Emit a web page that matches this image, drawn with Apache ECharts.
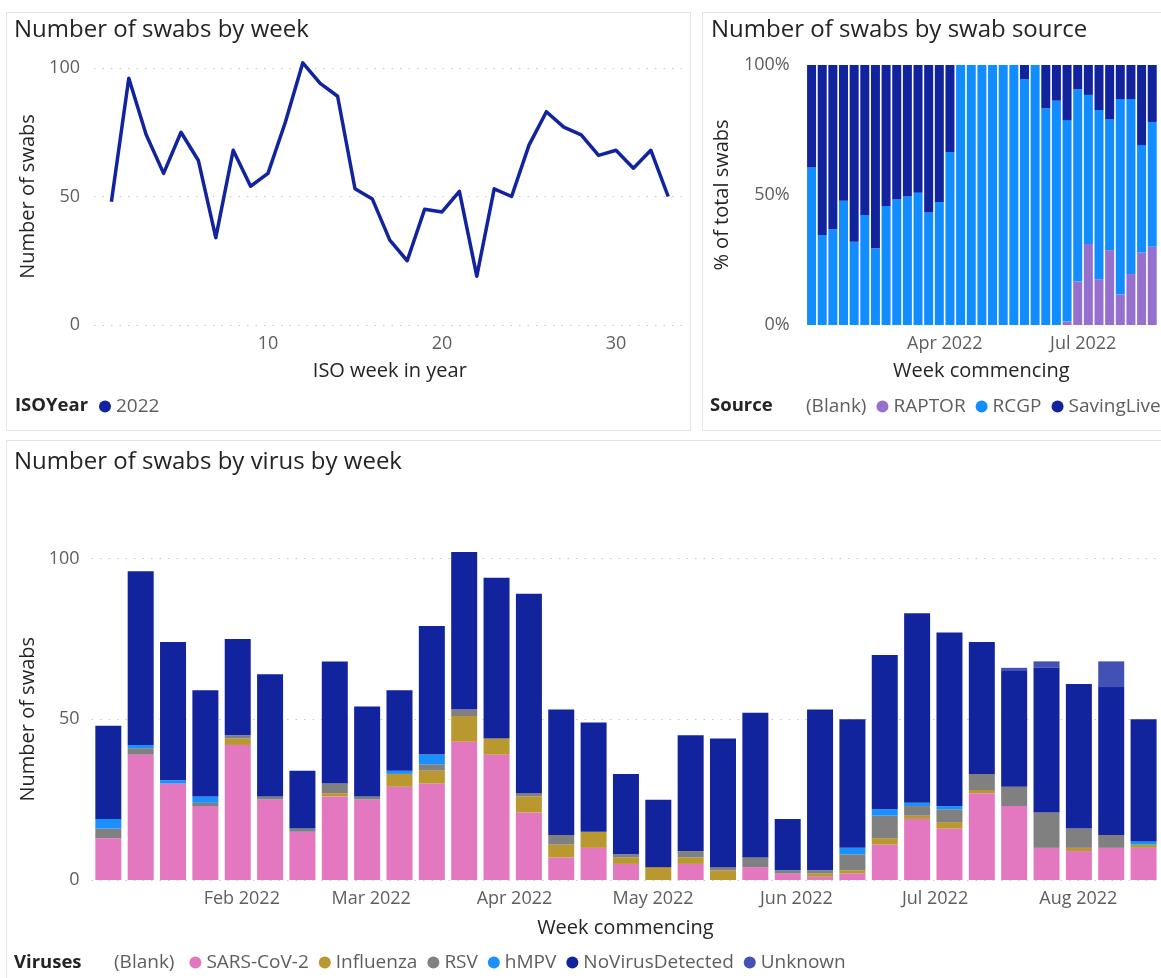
<!DOCTYPE html>
<html>
<head>
<meta charset="utf-8">
<script src="https://cdn.jsdelivr.net/npm/echarts@6/dist/echarts.min.js"></script>
<style>
  html, body { margin: 0; padding: 0; background: #ffffff; }
  #chart { width: 1161px; height: 978px; }
</style>
</head>
<body>
<div id="chart"></div>
<script>
// ---------------- DATA ----------------
const isoWeeks = [1,2,3,4,5,6,7,8,9,10,11,12,13,14,15,16,17,18,19,20,21,22,23,24,25,26,27,28,29,30,31,32,33];
const weekCommencing = ['2022-01-03','2022-01-10','2022-01-17','2022-01-24','2022-01-31','2022-02-07','2022-02-14',
  '2022-02-21','2022-02-28','2022-03-07','2022-03-14','2022-03-21','2022-03-28','2022-04-04','2022-04-11',
  '2022-04-18','2022-04-25','2022-05-02','2022-05-09','2022-05-16','2022-05-23','2022-05-30','2022-06-06',
  '2022-06-13','2022-06-20','2022-06-27','2022-07-04','2022-07-11','2022-07-18','2022-07-25','2022-08-01',
  '2022-08-08','2022-08-15'];

// Top-left: total swabs per ISO week (2022)
const swabsByWeek = [48,96,74,59,75,64,34,68,54,59,79,102,94,89,53,49,33,25,45,44,52,19,53,50,70,83,77,74,66,68,61,68,50];

// Top-right: % of total swabs by source
const pctRAPTOR = [0,0,0,0,0,0,0,0,0,0,0,0,0,0,0,0,0,0,0,0,0,0,0,0,1.3,16.7,31.2,17.6,28.8,11.7,19.6,27.9,30.1];
const pctRCGP = [60.6,34.6,36.8,47.8,32.0,42.3,29.5,45.8,48.3,49.4,50.9,43.3,47.3,66.5,100,100,100,100,100,100,94.5,100,83.3,86.3,77.5,73.9,57.3,65.1,50.3,75.2,67.3,41.3,48.0];
const pctSavingLives = [39.4,65.4,63.2,52.2,68.0,57.7,70.5,54.2,51.7,50.6,49.1,56.7,52.7,33.5,0,0,0,0,0,0,5.5,0,16.7,13.7,21.2,9.4,11.5,17.3,20.9,13.1,13.1,30.8,21.9];

// Bottom: swabs by virus by week
const sarsCov2 = [13,39,30,23,42,25,15,26,25,29,30,43,39,21,7,10,5,0,5,0,4,2,1,2,11,19,16,27,23,10,9,10,10];
const influenza = [0,0,0,0,2,0,0,1,0,4,4,8,5,5,4,5,2,4,2,3,0,0,1,1,2,1,2,1,0,0,1,0,1];
const rsv = [3,2,0,1,1,1,1,3,1,0,2,2,0,1,3,0,1,0,2,1,3,1,1,5,7,3,4,5,6,11,6,4,0];
const hmpv = [3,1,1,2,0,0,0,0,0,1,3,0,0,0,0,0,0,0,0,0,0,0,0,2,2,1,1,0,0,0,0,0,1];
const noVirusDetected = [29,54,43,33,30,38,18,38,28,25,40,49,50,62,39,34,25,21,36,40,45,16,50,40,48,59,54,41,36,45,45,46,38];
const unknown = [0,0,0,0,0,0,0,0,0,0,0,0,0,0,0,0,0,0,0,0,0,0,0,0,0,0,0,0,1,2,0,8,0];

// Tick labels
const lineXTicks = [10, 20, 30];
const sourceMonthTicks = ['2022-04-01', '2022-07-01'];
const virusMonthTicks = ['2022-02-01','2022-03-01','2022-04-01','2022-05-01','2022-06-01','2022-07-01','2022-08-01'];
const monthNames = ['Jan','Feb','Mar','Apr','May','Jun','Jul','Aug','Sep','Oct','Nov','Dec'];

// ---------------- HELPERS ----------------
function ts(s) { const p = s.split('-').map(Number); return new Date(p[0], p[1]-1, p[2]).getTime(); }
const DAY = 86400000;
const weekTs = weekCommencing.map(ts);
const tMin = weekTs[0] - 3.5 * DAY;                 // half a week before the first bar centre
const tMax = weekTs[weekTs.length - 1] + 3.5 * DAY; // half a week after the last bar centre
function monthLabel(v) { const d = new Date(v); return monthNames[d.getMonth()] + ' ' + d.getFullYear(); }

const FONT = "'Segoe UI', 'Open Sans', sans-serif";
const TXT = '#252423';
const LBL = '#605E5C';
const gridLine = { show: true, lineStyle: { color: '#C8C6C4', type: [1.5, 7], width: 1 } };

const cVirus = { sars: '#E478C0', flu: '#B8982F', rsv: '#808080', hmpv: '#1A90FF', nvd: '#12239E', unk: '#4350B4' };
const cSource = { raptor: '#9670CE', rcgp: '#118DFF', sl: '#12239E' };

const chart = echarts.init(document.getElementById('chart'), null, { renderer: 'canvas' });

const titleStyle = { fontFamily: FONT, fontSize: 24, color: TXT, fontWeight: 'normal' };
const headStyle = { fontFamily: FONT, fontSize: 18.5, color: TXT, fontWeight: 'bold' };
const axisNameStyle = { fontFamily: FONT, fontSize: 20, color: TXT };
const axisLabelStyle = { fontFamily: FONT, fontSize: 18, color: LBL };
const legendText = { fontFamily: FONT, fontSize: 19, color: LBL };

const hiddenCat = (grid) => ({ gridIndex: grid, type: 'category', data: weekCommencing, show: false, position: 'bottom', boundaryGap: true });

const option = {
  backgroundColor: '#ffffff',
  animation: false,
  textStyle: { fontFamily: FONT },
  graphic: [
    { type: 'rect', shape: { x: 6.5, y: 12.5, width: 684, height: 418 }, style: { fill: 'none', stroke: '#E3E3E3', lineWidth: 1 } },
    { type: 'rect', shape: { x: 702.5, y: 12.5, width: 470, height: 418 }, style: { fill: 'none', stroke: '#E3E3E3', lineWidth: 1 } },
    { type: 'rect', shape: { x: 6.5, y: 440.5, width: 1170, height: 560 }, style: { fill: 'none', stroke: '#E3E3E3', lineWidth: 1 } }
  ],
  title: [
    { text: 'Number of swabs by week', left: 14, top: 18, padding: 0, textStyle: titleStyle },
    { text: 'Number of swabs by swab source', left: 711, top: 18, padding: 0, textStyle: titleStyle },
    { text: 'Number of swabs by virus by week', left: 14, top: 450, padding: 0, textStyle: titleStyle },
    { text: 'ISOYear', left: 15, top: 396, padding: 0, textStyle: headStyle },
    { text: 'Source', left: 710, top: 396, padding: 0, textStyle: headStyle },
    { text: 'Viruses', left: 14, top: 953, padding: 0, textStyle: headStyle }
  ],
  legend: [
    { left: 99, top: 397, width: 500, padding: 0, itemWidth: 12, itemHeight: 12, itemGap: 10, icon: 'circle',
      textStyle: legendText, data: ['2022'] },
    { left: 789, top: 397, width: 700, padding: 0, itemWidth: 12, itemHeight: 12, itemGap: 10, icon: 'circle',
      textStyle: legendText, data: ['(Blank)', 'RAPTOR', 'RCGP', 'SavingLives'] },
    { left: 97, top: 953, width: 1000, padding: 0, itemWidth: 12, itemHeight: 12, itemGap: 10, icon: 'circle',
      textStyle: legendText,
      data: ['(Blank) ', 'SARS-CoV-2', 'Influenza', 'RSV', 'hMPV', 'NoVirusDetected', 'Unknown'] }
  ],
  grid: [
    { left: 94, right: 1161 - 685.6, top: 68, bottom: 978 - 325 },
    { left: 805.7, right: 4, top: 65, bottom: 978 - 325 },
    { left: 91.6, right: 1161 - 1159.2, top: 558.5, bottom: 978 - 880 }
  ],
  xAxis: [
    { gridIndex: 0, type: 'value', min: 0, max: 34,
      name: 'ISO week in year', nameLocation: 'middle', nameGap: 36, nameTextStyle: axisNameStyle,
      axisLine: { show: false }, axisTick: { show: false }, splitLine: { show: false },
      axisLabel: { customValues: lineXTicks, margin: 10, ...axisLabelStyle } },
    { gridIndex: 1, type: 'value', min: tMin, max: tMax, position: 'bottom',
      name: 'Week commencing', nameLocation: 'middle', nameGap: 36, nameTextStyle: axisNameStyle,
      axisLine: { show: false }, axisTick: { show: false }, splitLine: { show: false },
      axisLabel: { customValues: sourceMonthTicks.map(ts), formatter: monthLabel, margin: 10, hideOverlap: false, ...axisLabelStyle } },
    { gridIndex: 2, type: 'value', min: tMin, max: tMax, position: 'bottom',
      name: 'Week commencing', nameLocation: 'middle', nameGap: 38, nameTextStyle: axisNameStyle,
      axisLine: { show: false }, axisTick: { show: false }, splitLine: { show: false },
      axisLabel: { customValues: virusMonthTicks.map(ts), formatter: monthLabel, margin: 10, hideOverlap: false, ...axisLabelStyle } },
    hiddenCat(1),
    hiddenCat(2)
  ],
  yAxis: [
    { gridIndex: 0, type: 'value', min: 0, max: 100, interval: 50,
      name: 'Number of swabs', nameLocation: 'middle', nameGap: 55, nameTextStyle: axisNameStyle,
      axisLine: { show: false }, axisTick: { show: false }, splitLine: gridLine,
      axisLabel: { margin: 14, ...axisLabelStyle } },
    { gridIndex: 1, type: 'value', min: 0, max: 100, interval: 50,
      name: '% of total swabs', nameLocation: 'middle', nameGap: 73, nameTextStyle: axisNameStyle,
      axisLine: { show: false }, axisTick: { show: false }, splitLine: { show: false },
      axisLabel: { margin: 16, formatter: '{value}%', ...axisLabelStyle } },
    { gridIndex: 2, type: 'value', min: 0, max: 100, interval: 50,
      name: 'Number of swabs', nameLocation: 'middle', nameGap: 53, nameTextStyle: axisNameStyle,
      axisLine: { show: false }, axisTick: { show: false }, splitLine: gridLine,
      axisLabel: { margin: 12, ...axisLabelStyle } }
  ],
  series: [
    { name: '2022', type: 'line', xAxisIndex: 0, yAxisIndex: 0, clip: false,
      data: isoWeeks.map((w, i) => [w, swabsByWeek[i]]),
      showSymbol: false, symbol: 'circle', itemStyle: { color: '#12239E' },
      lineStyle: { color: '#12239E', width: 3.5, join: 'round' } },

    { name: '(Blank)', type: 'bar', xAxisIndex: 3, yAxisIndex: 1, data: [], itemStyle: { color: 'rgba(255,255,255,0)' } },
    { name: 'RAPTOR', type: 'bar', xAxisIndex: 3, yAxisIndex: 1, stack: 'src', barWidth: 9, data: pctRAPTOR, itemStyle: { color: cSource.raptor } },
    { name: 'RCGP', type: 'bar', xAxisIndex: 3, yAxisIndex: 1, stack: 'src', barWidth: 9, data: pctRCGP, itemStyle: { color: cSource.rcgp } },
    { name: 'SavingLives', type: 'bar', xAxisIndex: 3, yAxisIndex: 1, stack: 'src', barWidth: 9, data: pctSavingLives, itemStyle: { color: cSource.sl } },

    { name: '(Blank) ', type: 'bar', xAxisIndex: 4, yAxisIndex: 2, data: [], itemStyle: { color: 'rgba(255,255,255,0)' } },
    { name: 'SARS-CoV-2', type: 'bar', xAxisIndex: 4, yAxisIndex: 2, stack: 'vir', barWidth: 26, clip: false, data: sarsCov2, itemStyle: { color: cVirus.sars } },
    { name: 'Influenza', type: 'bar', xAxisIndex: 4, yAxisIndex: 2, stack: 'vir', barWidth: 26, clip: false, data: influenza, itemStyle: { color: cVirus.flu } },
    { name: 'RSV', type: 'bar', xAxisIndex: 4, yAxisIndex: 2, stack: 'vir', barWidth: 26, clip: false, data: rsv, itemStyle: { color: cVirus.rsv } },
    { name: 'hMPV', type: 'bar', xAxisIndex: 4, yAxisIndex: 2, stack: 'vir', barWidth: 26, clip: false, data: hmpv, itemStyle: { color: cVirus.hmpv } },
    { name: 'NoVirusDetected', type: 'bar', xAxisIndex: 4, yAxisIndex: 2, stack: 'vir', barWidth: 26, clip: false, data: noVirusDetected, itemStyle: { color: cVirus.nvd } },
    { name: 'Unknown', type: 'bar', xAxisIndex: 4, yAxisIndex: 2, stack: 'vir', barWidth: 26, clip: false, data: unknown, itemStyle: { color: cVirus.unk } }
  ]
};
chart.setOption(option);
</script>
</body>
</html>
